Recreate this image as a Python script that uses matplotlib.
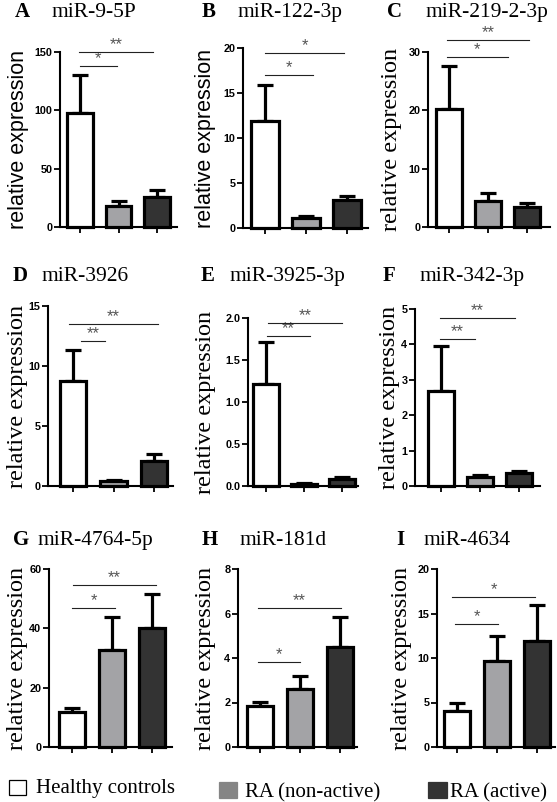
import matplotlib
matplotlib.use("Agg")
import matplotlib.pyplot as plt
from matplotlib.patches import Rectangle

# ---------------- data ----------------
groups = ["Healthy controls", "RA (non-active)", "RA (active)"]
panel_letters = ["A", "B", "C", "D", "E", "F", "G", "H", "I"]
mirnas = ["miR-9-5P", "miR-122-3p", "miR-219-2-3p", "miR-3926", "miR-3925-3p",
          "miR-342-3p", "miR-4764-5p", "miR-181d", "miR-4634"]
means = [
    [97.5, 17.8, 25.8],
    [11.9, 1.15, 3.15],
    [20.3, 4.5, 3.5],
    [8.75, 0.4, 2.05],
    [1.21, 0.025, 0.08],
    [2.69, 0.26, 0.37],
    [11.8, 32.7, 40.0],
    [1.84, 2.6, 4.5],
    [4.1, 9.7, 11.9],
]
sems = [
    [33.0, 4.2, 5.6],
    [4.0, 0.15, 0.45],
    [7.3, 1.3, 0.7],
    [2.6, 0.08, 0.58],
    [0.50, 0.012, 0.03],
    [1.27, 0.04, 0.04],
    [1.5, 11.0, 11.6],
    [0.2, 0.58, 1.33],
    [0.8, 2.8, 4.1],
]
yticks = [
    [0, 50, 100, 150],
    [0, 5, 10, 15, 20],
    [0, 10, 20, 30],
    [0, 5, 10, 15],
    [0.0, 0.5, 1.0, 1.5, 2.0],
    [0, 1, 2, 3, 4, 5],
    [0, 20, 40, 60],
    [0, 2, 4, 6, 8],
    [0, 5, 10, 15, 20],
]
ytick_labels = [
    ["0", "50", "100", "150"],
    ["0", "5", "10", "15", "20"],
    ["0", "10", "20", "30"],
    ["0", "5", "10", "15"],
    ["0.0", "0.5", "1.0", "1.5", "2.0"],
    ["0", "1", "2", "3", "4", "5"],
    ["0", "20", "40", "60"],
    ["0", "2", "4", "6", "8"],
    ["0", "5", "10", "15", "20"],
]
# significance brackets: (x_start, x_end, y, label)
brackets = [
    [(-0.03, 1.9, 150, "**"), (0.0, 0.96, 137.7, "*")],
    [(0.0, 1.93, 19.4, "*"), (0.0, 1.17, 17.0, "*")],
    [(-0.05, 2.05, 32.1, "**"), (-0.05, 1.5, 29.1, "*")],
    [(-0.1, 2.1, 13.5, "**"), (0.2, 0.78, 12.06, "**")],
    [(0.05, 2.0, 1.94, "**"), (0.03, 1.16, 1.78, "**")],
    [(-0.03, 1.9, 4.74, "**"), (-0.03, 0.87, 4.16, "**")],
    [(0.03, 2.1, 54.7, "**"), (0.0, 1.08, 46.8, "*")],
    [(-0.05, 2.03, 6.25, "**"), (-0.05, 1.0, 3.8, "*")],
    [(-0.12, 1.95, 16.8, "*"), (-0.05, 1.03, 13.8, "*")],
]
ylabel_text = "relative expression"
ylabel_serif = [False, False, True, True, True, True, True, True, True]

bar_colors = ["#ffffff", "#a3a3a6", "#333333"]
legend_colors = ["#ffffff", "#858585", "#333333"]

# ---------------- layout (pixels) ----------------
W, H = 557, 802
# axes: left px, top px, right px, bottom px, tick1 px, tick3 px
axes_px = [
    (60, 52, 177, 227, 80, 157),
    (243, 48, 368, 228, 265, 347),
    (428, 52, 550, 227, 449, 527),
    (48, 306, 173, 486, 73, 154),
    (248, 318, 358, 486, 266, 342),
    (415, 309, 540, 486, 441, 519),
    (49, 569, 172, 747, 72, 152),
    (238, 569, 357, 747, 260, 340),
    (437, 569, 555, 747, 457, 537),
]
title_px = [  # letter x, name x, baseline y
    (15, 52, 17), (202, 238, 17), (387, 425, 17),
    (13, 42, 281), (201, 230, 281), (383, 419, 281),
    (13, 38, 545), (202, 240, 545), (396, 423, 545),
]
ylabel_x = [19, 206, 391, 18, 205, 390, 18, 206, 401]

fig = plt.figure(figsize=(W / 100, H / 100), dpi=100)
fig.patch.set_facecolor("white")

def fx(x):
    return x / W

def fy(y):
    return 1 - y / H

SANS = "Liberation Sans"
SERIF = "Liberation Serif"

for i in range(9):
    l, t, r, b, t1, t3 = axes_px[i]
    ax = fig.add_axes([fx(l), fy(b), (r - l) / W, (b - t) / H])
    sp = (t3 - t1) / 2.0
    ax.set_xlim(-(t1 - l) / sp, 2 + (r - t3) / sp)
    ax.set_ylim(0, yticks[i][-1])
    x = [0, 1, 2]
    ax.errorbar(x, means[i], yerr=[[0, 0, 0], sems[i]], fmt="none",
                ecolor="black", elinewidth=2.3, capsize=5.5, capthick=2.3,
                zorder=2, clip_on=False)
    ax.bar(x, means[i], width=0.66, color=bar_colors, edgecolor="black",
           linewidth=2.3, zorder=3, clip_on=False)
    for sp_name in ["top", "right"]:
        ax.spines[sp_name].set_visible(False)
    for sp_name in ["left", "bottom"]:
        ax.spines[sp_name].set_linewidth(1.5)
    ax.set_xticks(x)
    ax.set_xticklabels([])
    ax.set_yticks(yticks[i])
    ax.set_yticklabels(ytick_labels[i], fontfamily=SANS, fontweight="bold",
                       fontsize=7.8)
    ax.tick_params(axis="both", direction="out", length=4, width=1.3, pad=1.5)
    ax.set_facecolor("none")
    for (x0, x1, yv, lab) in brackets[i]:
        ax.plot([x0, x1], [yv, yv], color="#222222", lw=0.8, clip_on=False,
                zorder=4)
        ax.annotate(lab, xy=((x0 + x1) / 2, yv), xytext=(0, 0.0),
                    textcoords="offset points", ha="center", va="bottom",
                    fontsize=12, color="#555555", fontfamily=SANS,
                    annotation_clip=False)
    # y label
    fam = SERIF if ylabel_serif[i] else SANS
    fs = 17.5 if ylabel_serif[i] else 15.5
    fig.text(fx(ylabel_x[i]), fy((t + b) / 2), ylabel_text, rotation=90,
             ha="center", va="center", fontsize=fs, fontfamily=fam)
    # titles
    lx, nx, by = title_px[i]
    fig.text(fx(lx), fy(by), panel_letters[i], fontfamily=SERIF,
             fontweight="bold", fontsize=15, ha="left", va="baseline")
    fig.text(fx(nx), fy(by), mirnas[i], fontfamily=SERIF, fontsize=15.5,
             ha="left", va="baseline")

# ---------------- legend ----------------
legend_sq = [(9, 780, 17, 15), (219, 782, 18, 16), (428, 782, 19, 16)]
legend_txt = [(36, 793), (245, 797), (450, 797)]
for k in range(3):
    sx, sy, sw, sh = legend_sq[k]
    fig.patches.append(Rectangle((fx(sx), fy(sy + sh)), sw / W, sh / H,
                                 transform=fig.transFigure,
                                 facecolor=legend_colors[k],
                                 edgecolor="black" if k == 0 else legend_colors[k],
                                 linewidth=0.9))
    tx, ty = legend_txt[k]
    fig.text(fx(tx), fy(ty), groups[k], fontfamily=SERIF, fontsize=15,
             ha="left", va="baseline")

fig.savefig("out.png", dpi=100, facecolor="white")
